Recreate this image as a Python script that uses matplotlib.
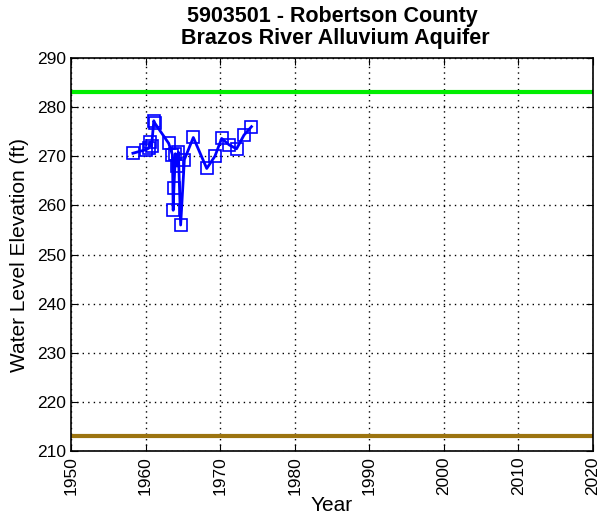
import numpy as np
import matplotlib
matplotlib.use('Agg')
import matplotlib.pyplot as plt

plt.rcParams['font.family'] = ['Liberation Sans', 'DejaVu Sans']

# measured water levels
year = [1958.3, 1960.0, 1960.4, 1960.6, 1960.8, 1961.1, 1961.2, 1963.1,
        1963.6, 1963.7, 1963.8, 1964.0, 1964.2, 1964.4, 1964.7, 1965.2,
        1966.4, 1968.2, 1969.3, 1970.2, 1971.2, 1972.2, 1973.2, 1974.2]
level = [270.6, 271.3, 271.6, 272.8, 272.0, 277.2, 276.8, 272.6,
         270.3, 259.0, 263.6, 270.5, 268.0, 270.8, 256.0, 269.3,
         273.8, 267.5, 270.0, 273.6, 272.3, 271.5, 274.3, 276.0]

top_elev = 283
bottom_elev = 213

fig = plt.figure(figsize=(6.02, 5.21), dpi=100)
ax = fig.add_axes([0.118, 0.134, 0.867, 0.755])

ax.axhline(top_elev, color='#00ee00', lw=3, zorder=2)
ax.axhline(bottom_elev, color='#9c7410', lw=3, zorder=2)
ax.plot(year, level, '-s', color='#0000ff', lw=2, markersize=8,
        markerfacecolor='none', markeredgewidth=1.2, zorder=3)

ax.set_xlim(1950, 2020)
ax.set_ylim(210, 290)
ax.set_xticks(np.arange(1950, 2021, 10))
ax.set_yticks(np.arange(210, 291, 10))
ax.tick_params(axis='x', labelrotation=90, labelsize=12.5, direction='in', length=5)
ax.tick_params(axis='y', labelsize=12.5, direction='in', length=5)
ax.tick_params(top=True, right=True)
ax.grid(True, color='black', linestyle=(0, (1, 3)), lw=1)
for s in ax.spines.values():
    s.set_linewidth(1.2)

ax.set_xlabel('Year', fontsize=15, labelpad=1)
ax.set_ylabel('Water Level Elevation (ft)', fontsize=15, labelpad=6)
ax.set_title('5903501 - Robertson County\n Brazos River Alluvium Aquifer',
             fontsize=15.5, fontweight='bold', pad=10, linespacing=1.05)

fig.savefig('out.png', dpi=100)
